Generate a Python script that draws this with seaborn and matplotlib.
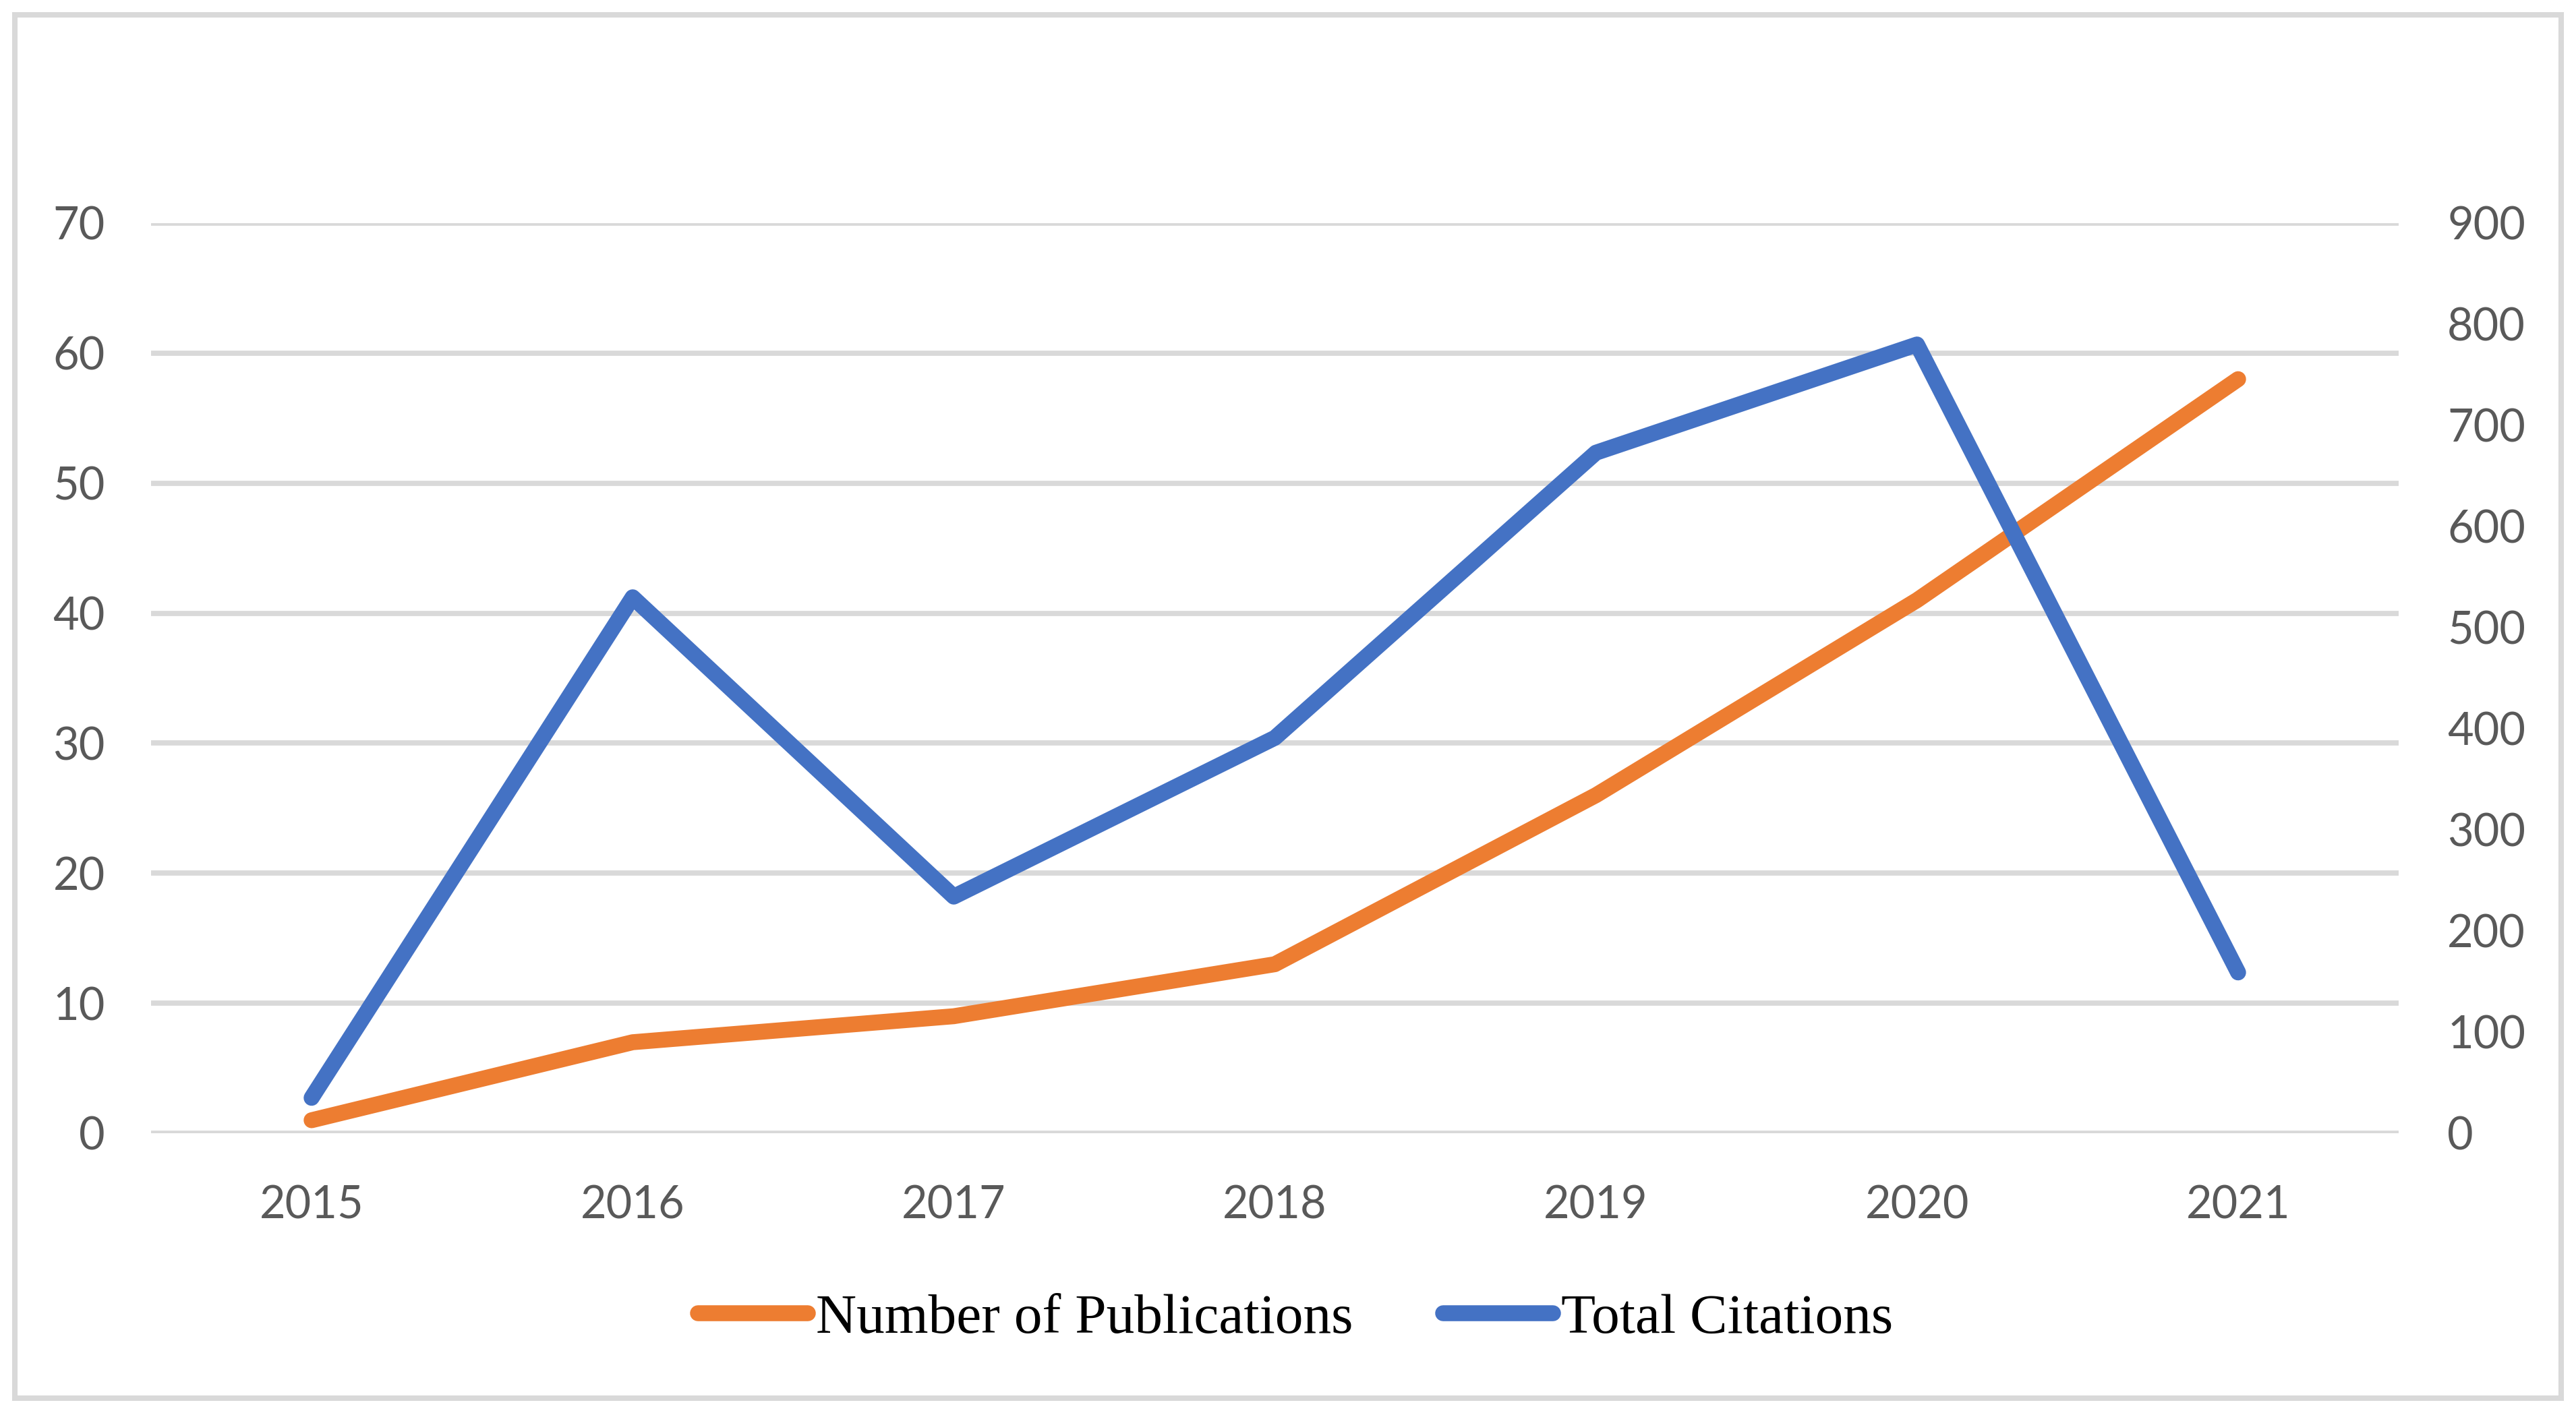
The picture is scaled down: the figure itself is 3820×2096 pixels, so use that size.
import matplotlib
matplotlib.use("Agg")
import matplotlib.pyplot as plt
from matplotlib.patches import Rectangle
from matplotlib.lines import Line2D
import seaborn as sns
import pandas as pd

# ---- data ----
years = [2015, 2016, 2017, 2018, 2019, 2020, 2021]
publications = [1, 7, 9, 13, 26, 41, 58]
citations = [35, 530, 234, 391, 673, 780, 159]
left_ticks = [0, 10, 20, 30, 40, 50, 60, 70]
right_ticks = [0, 100, 200, 300, 400, 500, 600, 700, 800, 900]
series_names = ["Number of Publications", "Total Citations"]

ORANGE = "#ED7D31"
BLUE = "#4472C4"
GRID = "#D9D9D9"
TXT = "#595959"

sns.set_theme(style="white")
plt.rcParams["font.family"] = ["Lato", "DejaVu Sans"]

df = pd.DataFrame({"year": years, "pub": publications, "cit": citations})

W, H = 3820, 2096
fig = plt.figure(figsize=(W / 100, H / 100), dpi=100)
fig.patch.set_facecolor("white")

# outer border
fig.patches.append(Rectangle((22 / W, 22 / H), (W - 44) / W, (H - 44) / H,
                             transform=fig.transFigure, fill=False,
                             edgecolor=GRID, linewidth=5.8, zorder=0))

left, right = 224 / W, 3557 / W
bottom, top = 1 - 1681 / H, 1 - 331 / H
ax = fig.add_axes([left, bottom, right - left, top - bottom])
ax2 = ax.twinx()

lw = 17
sns.lineplot(data=df, x="year", y="pub", ax=ax, color=ORANGE, linewidth=lw,
             solid_capstyle="round", solid_joinstyle="round", zorder=3)
sns.lineplot(data=df, x="year", y="cit", ax=ax2, color=BLUE, linewidth=lw,
             solid_capstyle="round", solid_joinstyle="round", zorder=3)

ax.set_xlim(years[0] - 0.5, years[-1] + 0.5)
ax.set_ylim(left_ticks[0], left_ticks[-1])
ax2.set_ylim(right_ticks[0], right_ticks[-1])
ax.set_xticks(years)
ax.set_xticklabels([str(y) for y in years])
ax.set_yticks(left_ticks)
ax2.set_yticks(right_ticks)

ax.yaxis.grid(True, color=GRID, linewidth=5.6, zorder=0)
ax.xaxis.grid(False)
ax2.grid(False)
ax.set_axisbelow(True)

for a in (ax, ax2):
    for s in a.spines.values():
        s.set_visible(False)
    a.set_xlabel("")
    a.set_ylabel("")

ax.tick_params(axis="y", length=0, pad=49, labelsize=48, labelcolor=TXT)
ax.tick_params(axis="x", length=0, pad=55, labelsize=48, labelcolor=TXT)
ax2.tick_params(axis="y", length=0, pad=52, labelsize=48, labelcolor=TXT)

handles = [Line2D([0], [0], color=ORANGE, linewidth=lw, solid_capstyle="round"),
           Line2D([0], [0], color=BLUE, linewidth=lw, solid_capstyle="round")]
leg = fig.legend(handles, series_names, loc="center",
                 bbox_to_anchor=(0.503, 1 - 1957 / H), ncol=2, frameon=False,
                 prop={"family": "Liberation Serif", "size": 60},
                 handlelength=1.95, handletextpad=0.15, columnspacing=1.6)
for t in leg.get_texts():
    t.set_color("black")

fig.savefig("out.png", dpi=100, facecolor="white")
